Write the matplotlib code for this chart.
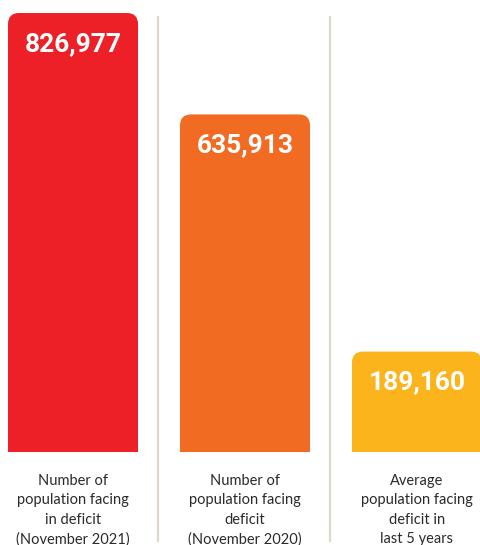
import numpy as np
import matplotlib.pyplot as plt
from matplotlib.patches import FancyBboxPatch, Rectangle
from matplotlib.lines import Line2D

labels = ["Number of\npopulation facing\nin deficit\n(November 2021)",
          "Number of\npopulation facing\ndeficit\n(November 2020)",
          "Average\npopulation facing\ndeficit in\nlast 5 years"]
values = [826977, 635913, 189160]
colors = ["#ED1F27", "#F26B23", "#FBB41B"]

W, H = 481, 545
fig = plt.figure(figsize=(W / 100, H / 100), dpi=100)
ax = fig.add_axes([0, (H - 452) / H, 1, 452 / H])

x = np.arange(len(values))
width = 130 / 172
ax.set_xlim(-73 / 172, 2 + 64 / 172)
ymax = values[0] * 452 / 439
ax.set_ylim(0, ymax)

# pixel -> data units, for round corners
px_x = 1 / 172
px_y = ymax / 452
r = 11 * px_x
for xi, v, c in zip(x, values, colors):
    ax.add_patch(FancyBboxPatch((xi - width / 2, 0), width, v,
                                boxstyle=f"round,pad=0,rounding_size={r}",
                                mutation_aspect=px_y / px_x,
                                fc=c, ec="none"))
    ax.add_patch(Rectangle((xi - width / 2, 0), width, v / 2, fc=c, ec="none"))
    ax.text(xi, v - 31 * px_y, f"{v:,}", ha="center", va="center",
            color="white", fontsize=19, fontweight="bold", family="Roboto")

# separators
for sx in [158, 330]:
    fig.add_artist(Line2D([sx / W, sx / W], [(H - 17) / H, (H - 541) / H],
                          color="#DEDACB", lw=1.6))

ax.set_xticks(x, labels, family="Lato", fontsize=10.5, color="#2b2b2b",
              linespacing=1.47)
ax.tick_params(length=0, pad=16)
ax.set_yticks([])
for s in ax.spines.values():
    s.set_visible(False)
ax.patch.set_alpha(0)

fig.savefig("out.png", dpi=100)
